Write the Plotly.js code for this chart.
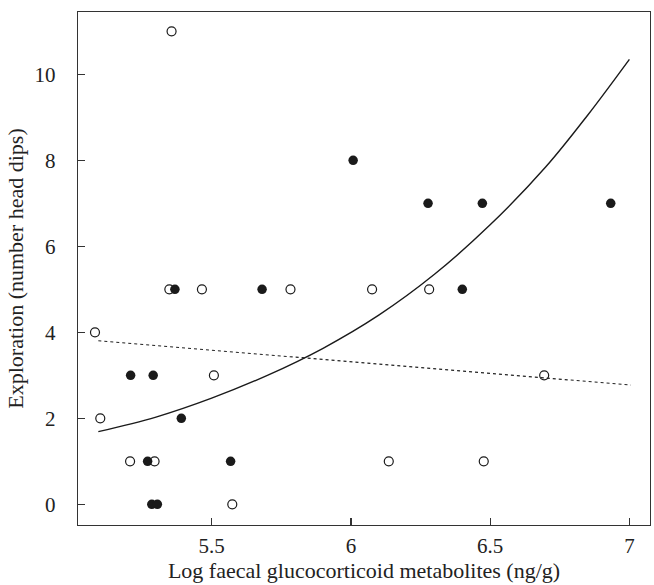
<!DOCTYPE html>
<html>
<head>
<meta charset="utf-8">
<script src="https://cdn.plot.ly/plotly-3.0.1.min.js"></script>
<style>html,body{margin:0;padding:0;background:#fff;}#chart{width:654px;height:585px;}</style>
</head>
<body>
<div id="chart"></div>
<script>
// Filled circles
const filledX = [5.209, 5.290, 5.391, 5.270, 5.568, 5.285, 5.305, 5.368, 5.681, 6.008, 6.277, 6.472, 6.933, 6.400];
const filledY = [3, 3, 2, 1, 1, 0, 0, 5, 5, 8, 7, 7, 7, 5];
// Open circles
const openX = [5.081, 5.100, 5.508, 5.207, 5.295, 5.574, 5.348, 5.465, 5.783, 5.356, 6.076, 6.281, 6.694, 6.136, 6.477];
const openY = [4, 2, 3, 1, 1, 0, 5, 5, 5, 11, 5, 5, 3, 1, 1];
// Solid fitted curve
const curveX = [5.093, 5.3, 5.5, 5.7, 5.9, 6.1, 6.3, 6.5, 6.7, 6.85, 7.0];
const curveY = [1.69, 2.03, 2.47, 3.00, 3.63, 4.40, 5.35, 6.50, 7.85, 9.05, 10.35];
// Dotted fitted line
const dotX = [5.093, 7.005];
const dotY = [3.805, 2.774];
// Ticks
const xTicks = [5.5, 6, 6.5, 7];
const xTickText = ['5.5', '6', '6.5', '7'];
const yTicks = [0, 2, 4, 6, 8, 10];

const font = 'Liberation Serif, DejaVu Serif, serif';

const traces = [
  {x: dotX, y: dotY, mode: 'lines', line: {color: '#222', width: 1.1, dash: 'dot'}, hoverinfo: 'skip'},
  {x: curveX, y: curveY, mode: 'lines', line: {color: '#1a1a1a', width: 1.4, shape: 'spline', smoothing: 1}, hoverinfo: 'skip'},
  {x: openX, y: openY, mode: 'markers', marker: {symbol: 'circle-open', size: 9, color: '#1a1a1a', line: {width: 1.2, color: '#1a1a1a'}}},
  {x: filledX, y: filledY, mode: 'markers', marker: {symbol: 'circle', size: 9.5, color: '#1a1a1a'}}
];

const layout = {
  width: 654, height: 585,
  margin: {l: 78, r: 4, t: 12, b: 60},
  showlegend: false,
  paper_bgcolor: '#fff', plot_bgcolor: '#fff',
  font: {family: font, size: 21, color: '#222'},
  xaxis: {
    range: [5.02, 7.074], tickvals: xTicks, ticktext: xTickText,
    ticks: 'inside', ticklen: 7, tickwidth: 1.2, tickcolor: '#333',
    showline: true, linecolor: '#333', linewidth: 1.3, mirror: true,
    showgrid: false, zeroline: false, ticklabelstandoff: 1,
    tickfont: {family: font, size: 21, color: '#222'},
    title: {text: 'Log faecal glucocorticoid metabolites (ng/g)', font: {family: font, size: 22, color: '#222'}, standoff: 4}
  },
  yaxis: {
    range: [-0.48, 11.45], tickvals: yTicks,
    ticks: 'inside', ticklen: 7, tickwidth: 1.2, tickcolor: '#333',
    showline: true, linecolor: '#333', linewidth: 1.3, mirror: true,
    showgrid: false, zeroline: false, ticklabelstandoff: 17,
    tickfont: {family: font, size: 21, color: '#222'},
    title: {text: 'Exploration (number head dips)', font: {family: font, size: 22, color: '#222'}, standoff: 4}
  }
};

Plotly.newPlot('chart', traces, layout, {displayModeBar: false, staticPlot: true});
</script>
</body>
</html>
